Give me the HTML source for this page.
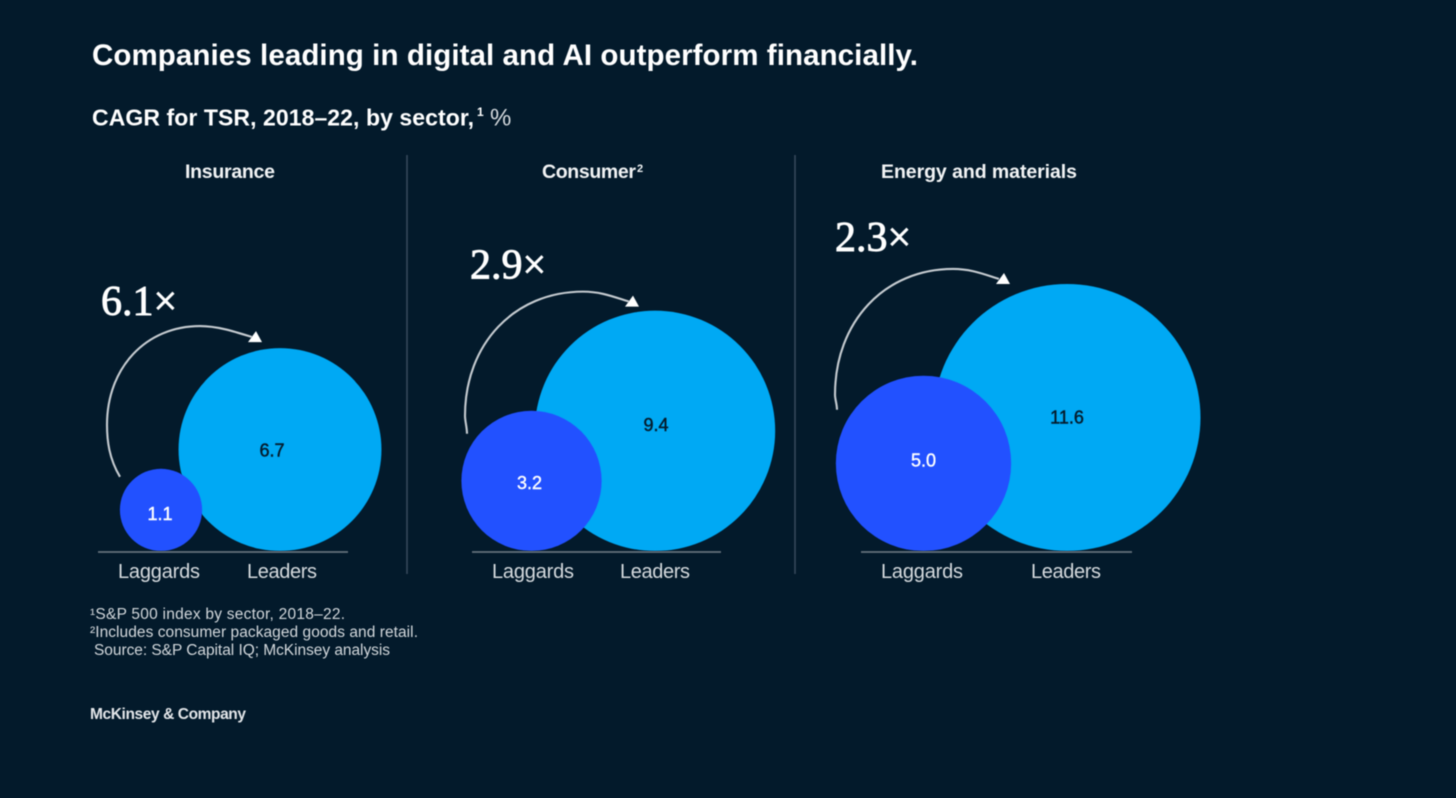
<!DOCTYPE html>
<html lang="en">
<head>
<meta charset="utf-8">
<title>Companies leading in digital and AI outperform financially</title>
<style>
  html, body { margin: 0; padding: 0; background: #031a2b; width: 1456px; height: 798px; overflow: hidden; }
  svg { display: block; }
  text { font-family: "Liberation Sans", sans-serif; }
  .soft { filter: blur(0.55px); }
  .edge { filter: blur(0.5px); }
</style>
</head>
<body>
<svg id="chart" xmlns="http://www.w3.org/2000/svg" width="1456" height="798" viewBox="0 0 1456 798">
  <rect x="0" y="0" width="1456" height="798" fill="#031a2b"/>
  <g class="soft" fill="#ffffff">
    <text x="92" y="65" font-size="29.5" font-weight="700" textLength="826">Companies leading in digital and AI outperform financially.</text>
    <text x="92" y="125.5" font-size="23" font-weight="700" textLength="382">CAGR for TSR, 2018–22, by sector,</text>
    <text x="477" y="116" font-size="12" font-weight="700">1</text>
    <text x="490" y="125.5" font-size="24" fill="#d5dade">%</text>
  </g>
  <g id="panels"></g>
  <g class="soft" fill="#d3d8dc" font-size="15.5">
    <text x="90" y="619" textLength="255">¹S&amp;P 500 index by sector, 2018–22.</text>
    <text x="90" y="637" textLength="328">²Includes consumer packaged goods and retail.</text>
    <text x="94" y="655" textLength="296">Source: S&amp;P Capital IQ; McKinsey analysis</text>
    <text x="90" y="719" font-size="15.5" font-weight="700" fill="#e4e7ea" textLength="156">McKinsey &amp; Company</text>
  </g>
</svg>
<script>
const sectors = ["Insurance", "Consumer", "Energy and materials"];
const sectorNotes = ["", "2", ""];
const groupLabels = ["Laggards", "Leaders"];
const laggardValues = [1.1, 3.2, 5.0];
const leaderValues = [6.7, 9.4, 11.6];
const multiples = ["6.1×", "2.9×", "2.3×"];

const SVG_NS = "http://www.w3.org/2000/svg";
const baselineY = 551;
const panelsRoot = document.getElementById("panels");

function radiusScale(value) {
  return 39.2 * Math.sqrt(value);
}

function make(parent, tag, attrs) {
  const el = document.createElementNS(SVG_NS, tag);
  Object.keys(attrs).forEach(function (k) { el.setAttribute(k, attrs[k]); });
  parent.appendChild(el);
  return el;
}

function drawPanel(i, o) {
  const lagR = radiusScale(laggardValues[i]);
  const leadR = radiusScale(leaderValues[i]);
  const lagTop = baselineY - 2 * lagR;
  const leadTop = baselineY - 2 * leadR;
  const slug = sectors[i].toLowerCase().replace(/ /g, "-");

  const g = make(panelsRoot, "g", {});
  
  

  const title = make(g, "text", { x: o.titleX, y: 178, "font-size": 19.5, "font-weight": 700, fill: "#f2f4f5", textLength: o.titleW, "class": "soft" });
  
  
  title.textContent = sectors[i];
  if (sectorNotes[i]) {
    const note = make(g, "text", { x: o.titleX + o.titleW + 1, y: 172, "font-size": 11, "font-weight": 700, fill: "#f2f4f5", "class": "soft" });
    
    
    note.textContent = sectorNotes[i];
  }

  const leader = make(g, "circle", { cx: o.leadX, cy: baselineY - leadR, r: leadR, fill: "#00a9f4", "class": "edge" });
  
  

  const laggard = make(g, "circle", { cx: o.lagX, cy: baselineY - lagR, r: lagR, fill: "#2251ff", "class": "edge" });
  
  

  const axis = make(g, "line", { x1: o.axisL, x2: o.axisR, y1: baselineY + 1, y2: baselineY + 1, stroke: "#66727d", "stroke-width": 1.8, "class": "edge" });
  
  

  const leadVal = make(g, "text", { x: o.leadX + o.leadDx, y: baselineY - leadR + o.leadDy, "font-size": 18, "font-weight": 400, "text-anchor": "middle", fill: "#051c2c", stroke: "#051c2c", "stroke-width": 0.45, "class": "soft" });
  
  
  leadVal.textContent = leaderValues[i].toFixed(1);

  const lagVal = make(g, "text", { x: o.lagX + o.lagDx, y: baselineY - lagR + o.lagDy, "font-size": 18, "font-weight": 400, "text-anchor": "middle", fill: "#ffffff", stroke: "#ffffff", "stroke-width": 0.4, "class": "soft" });
  
  
  lagVal.textContent = laggardValues[i].toFixed(1);

  const lagLabel = make(g, "text", { x: o.lagLabelX, y: 578, "font-size": 20, fill: "#d5dade", textLength: 82, "class": "soft" });
  
  
  lagLabel.textContent = groupLabels[0];

  const leadLabel = make(g, "text", { x: o.leadLabelX, y: 578, "font-size": 20, fill: "#d5dade", textLength: 70, "class": "soft" });
  
  
  leadLabel.textContent = groupLabels[1];

  const startY = lagTop + o.startDy;
  const arcTop = leadTop - o.arcGap;
  const bendY = startY - o.bend;
  const endY = arcTop + o.endDrop;
  const d = "M" + o.startX + " " + startY +
    " C" + (o.arcL + 2) + " " + (startY - o.bend * 0.35) + " " + o.arcL + " " + (startY - o.bend * 0.7) + " " + o.arcL + " " + bendY +
    " C" + o.arcL + " " + (bendY - (bendY - arcTop) * 0.58) + " " + (o.arcL + (o.topX - o.arcL) * 0.42) + " " + arcTop + " " + o.topX + " " + arcTop +
    " C" + (o.topX + 18) + " " + arcTop + " " + (o.endX - 16) + " " + (endY - 5) + " " + o.endX + " " + endY;
  const arc = make(g, "path", { d: d, fill: "none", stroke: "#c6ccd1", "stroke-width": 2.1, "class": "edge" });
  
  

  const ax = o.endX + o.headDx;
  const ay = endY + 5;
  const head = make(g, "polygon", { points: (ax - 7) + "," + ay + " " + (ax + 7) + "," + ay + " " + (ax + 1) + "," + (ay - 11), fill: "#ffffff", "class": "edge" });
  
  

  const mult = make(g, "text", { x: o.multX, y: arcTop - o.multGap, "font-size": 42, fill: "#ffffff", stroke: "#ffffff", "stroke-width": 0.9, style: "font-family:'Liberation Serif',serif", "class": "soft" });
  
  
  mult.textContent = multiples[i];
}

drawPanel(0, { titleX: 185, titleW: 90, lagX: 161, leadX: 280, axisL: 98, axisR: 348, leadDx: -8, leadDy: 7, lagDx: -1, lagDy: 10, lagLabelX: 118, leadLabelX: 247, startX: 120, startDy: 8, bend: 52, arcGap: 22, arcL: 107, topX: 200, endX: 252, endDrop: 11, headDx: 3, multX: 101, multGap: 11 });
drawPanel(1, { titleX: 542, titleW: 94, lagX: 531.5, leadX: 655, axisL: 472, axisR: 721, leadDx: 1, leadDy: 0, lagDx: -2, lagDy: 8, lagLabelX: 492, leadLabelX: 620, startX: 467, startDy: 23, bend: 18, arcGap: 19, arcL: 465, topX: 583, endX: 629, endDrop: 10, headDx: 3, multX: 470, multGap: 13 });
drawPanel(2, { titleX: 881, titleW: 196, lagX: 923.5, leadX: 1067, axisL: 861, axisR: 1132, leadDx: 0, leadDy: 6, lagDx: 0, lagDy: 3, lagLabelX: 881, leadLabelX: 1031, startX: 837, startDy: 34, bend: 15, arcGap: 15, arcL: 835, topX: 953, endX: 999, endDrop: 10, headDx: 4, multX: 835, multGap: 18 });

[407, 795].forEach(function (x, n) {
  const divider = make(panelsRoot, "line", { x1: x, x2: x, y1: 155, y2: 574, stroke: "#36485a", "stroke-width": 1.6, "class": "edge" });
  
  
});
</script>
</body>
</html>
